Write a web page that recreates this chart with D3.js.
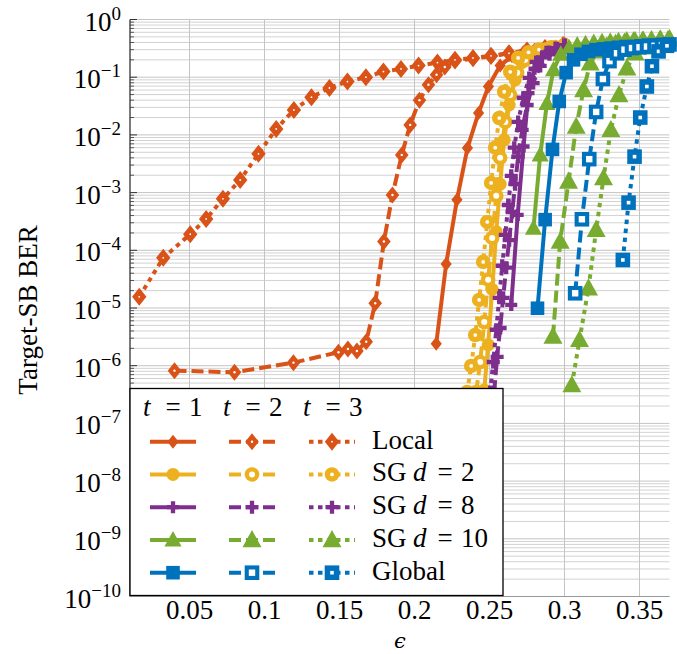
<!DOCTYPE html>
<html lang="en">
<head>
<meta charset="utf-8">
<script src="https://d3js.org/d3.v7.min.js"></script>
<style>
  body { margin: 0; background: #fff; }
  svg { font-family: "Liberation Serif", "Times New Roman", serif; }
</style>
</head>
<body>
<svg width="677" height="654"></svg>
<script>
// ---- data: [epsilon, BER] ----
var localT1 = [[0.2145,2.4e-6],[0.2211,5.8e-5],[0.2283,7.5e-4],[0.2353,5.9e-3],[0.2427,2.4e-2],[0.2493,6.9e-2],[0.2571,0.16],[0.2650,0.23],[0.2725,0.27],[0.2800,0.30],[0.2870,0.32],[0.2940,0.34],[0.3000,0.36]];
var localT2 = [[0.040,8.2e-7],[0.080,7.7e-7],[0.1193,1.13e-6],[0.1493,1.71e-6],[0.1556,1.95e-6],[0.1616,1.8e-6],[0.1678,2.6e-6],[0.1738,1.21e-5],[0.1796,1.42e-4],[0.1853,9.1e-4],[0.1915,4.5e-3],[0.1971,1.49e-2],[0.2033,4.0e-2],[0.2093,7.4e-2],[0.2147,0.11],[0.2202,0.15],[0.2270,0.19],[0.2390,0.21],[0.2510,0.23],[0.2630,0.26],[0.2750,0.29],[0.2870,0.32],[0.3000,0.36]];
var localT3 = [[0.0165,1.56e-5],[0.0325,7.4e-5],[0.0505,1.9e-4],[0.0611,3.5e-4],[0.0723,7.8e-4],[0.0838,1.66e-3],[0.0960,4.7e-3],[0.1078,1.27e-2],[0.1196,2.7e-2],[0.1313,4.5e-2],[0.1433,6.5e-2],[0.1553,8.4e-2],[0.1676,0.100],[0.1793,0.125],[0.1910,0.139],[0.2027,0.159],[0.2153,0.179],[0.2270,0.20],[0.2390,0.215],[0.2510,0.235],[0.2630,0.26],[0.2750,0.29],[0.2870,0.32],[0.2990,0.36]];

var sg2T1 = [[0.2465,3.8e-7],[0.2491,2.3e-6],[0.2518,2.1e-5],[0.2545,2.1e-4],[0.2571,1.4e-3],[0.2598,8.2e-3],[0.2631,3.3e-2],[0.2671,9.0e-2],[0.2718,0.18],[0.2780,0.25],[0.2850,0.30],[0.2920,0.33],[0.3000,0.36]];
var sg2T2 = [[0.2411,3.5e-7],[0.2438,1.16e-6],[0.2465,5.7e-6],[0.2491,3.1e-5],[0.2518,1.64e-4],[0.2545,8.8e-4],[0.2571,4.0e-3],[0.2605,1.68e-2],[0.2638,4.9e-2],[0.2685,0.119],[0.2738,0.20],[0.2800,0.26],[0.2870,0.30],[0.2940,0.33],[0.3000,0.36]];
var sg2T3 = [[0.2351,3.5e-7],[0.2378,9.9e-7],[0.2405,3.4e-6],[0.2431,1.38e-5],[0.2458,6.3e-5],[0.2485,3.1e-4],[0.2511,1.47e-3],[0.2538,6.0e-3],[0.2565,1.96e-2],[0.2598,5.6e-2],[0.2638,0.124],[0.2691,0.216],[0.2760,0.27],[0.2830,0.30],[0.2910,0.33],[0.3000,0.36]];

var sg8T1 = [[0.2645,1.13e-5],[0.2688,4.1e-4],[0.2727,6.3e-3],[0.2760,5.3e-2],[0.2800,0.14],[0.2850,0.22],[0.2900,0.28],[0.2950,0.32],[0.3000,0.36]];
var sg8T2 = [[0.2531,3.5e-7],[0.2551,1.42e-6],[0.2571,4.5e-6],[0.2591,1.5e-5],[0.2611,5.0e-5],[0.2631,1.5e-4],[0.2651,4.6e-4],[0.2671,1.4e-3],[0.2691,4.2e-3],[0.2718,1.22e-2],[0.2751,3.3e-2],[0.2791,7.9e-2],[0.2838,0.157],[0.2900,0.25],[0.2950,0.31],[0.3000,0.36]];
var sg8T3 = [[0.2505,3.5e-7],[0.2525,1.16e-6],[0.2545,4.2e-6],[0.2565,1.5e-5],[0.2585,5.4e-5],[0.2605,1.85e-4],[0.2625,6.1e-4],[0.2645,1.95e-3],[0.2665,6.0e-3],[0.2691,1.68e-2],[0.2725,4.4e-2],[0.2765,9.7e-2],[0.2811,0.184],[0.2880,0.27],[0.2940,0.32],[0.3000,0.36]];

var sg10T1 = [[0.2793,2.4e-4],[0.2838,4.5e-3],[0.2883,3.5e-2],[0.2927,0.134],[0.2975,0.25],[0.3030,0.32],[0.3085,0.36],[0.3140,0.38],[0.3195,0.40],[0.3250,0.41],[0.3305,0.42],[0.3360,0.43],[0.3415,0.44],[0.3470,0.44],[0.3525,0.45],[0.3580,0.45],[0.3635,0.46],[0.3690,0.46]];
var sg10T2 = [[0.2923,3.2e-6],[0.2971,1.42e-4],[0.3027,1.55e-3],[0.3078,1.39e-2],[0.3127,6.0e-2],[0.3171,0.175],[0.3220,0.28],[0.3280,0.34],[0.3340,0.38],[0.3400,0.40],[0.3460,0.42],[0.3520,0.43],[0.3580,0.44],[0.3640,0.45],[0.3700,0.46]];
var sg10T3 = [[0.3049,4.6e-7],[0.3100,2.8e-6],[0.3160,2.2e-5],[0.3211,2.26e-4],[0.3260,1.78e-3],[0.3309,1.22e-2],[0.3363,4.9e-2],[0.3416,0.143],[0.3470,0.26],[0.3520,0.33],[0.3580,0.38],[0.3640,0.42],[0.3700,0.45]];

var globalT1 = [[0.2820,9.9e-6],[0.2871,3.4e-4],[0.2920,5.6e-3],[0.2965,3.8e-2],[0.3011,0.12],[0.3060,0.20],[0.3110,0.25],[0.3160,0.28],[0.3210,0.30],[0.3260,0.31],[0.3310,0.32],[0.3360,0.33],[0.3410,0.34],[0.3460,0.34],[0.3510,0.35],[0.3560,0.36],[0.3610,0.36],[0.3660,0.37]];
var globalT2 = [[0.3071,1.8e-5],[0.3116,3.45e-4],[0.3165,3.8e-3],[0.3211,2.5e-2],[0.3256,9.3e-2],[0.3300,0.19],[0.3350,0.26],[0.3400,0.30],[0.3450,0.32],[0.3500,0.33],[0.3550,0.34],[0.3600,0.35],[0.3650,0.36],[0.3700,0.37]];
var globalT3 = [[0.3389,6.8e-5],[0.3427,6.7e-4],[0.3467,4.2e-3],[0.3505,2.0e-2],[0.3549,6.9e-2],[0.3583,0.155],[0.3627,0.28],[0.3683,0.35]];

var xTicks = [0.05, 0.1, 0.15, 0.2, 0.25, 0.3, 0.35];
var xTickLabels = ["0.05", "0.1", "0.15", "0.2", "0.25", "0.3", "0.35"];
var yExponents = [-10, -9, -8, -7, -6, -5, -4, -3, -2, -1, 0];
var groupNames = ["Local", "SG", "SG", "SG", "Global"];
var groupD = [null, "2", "8", "10", null];
var tLabels = ["1", "2", "3"];

// ---- setup ----
var svg = d3.select("svg");
var pL = 130, pR = 669.5, pT = 19.5, pB = 596.5;

var x = d3.scaleLinear().domain([0.01, 0.37]).range([129.5, pR]);
var y = d3.scaleLog().domain([1e-10, 1]).range([pB, pT]);

var colors = ["#D95319", "#EDB120", "#7E2F8E", "#77AC30", "#0072BD"];
var kinds = ["diamond", "circle", "plus", "triangle", "square"];
var dashes = [null, "12 5", "4.5 4.5"];

var series = [
  [localT1, localT2, localT3],
  [sg2T1, sg2T2, sg2T3],
  [sg8T1, sg8T2, sg8T3],
  [sg10T1, sg10T2, sg10T3],
  [globalT1, globalT2, globalT3]
];

// grid
var grid = svg.append("g");
yExponents.forEach(function(e) {
  if (e < 0) {
    for (var k = 2; k <= 9; k++) {
      var v = k * Math.pow(10, e);
      grid.append("line").attr("x1", pL).attr("x2", pR)
        .attr("y1", y(v)).attr("y2", y(v))
        .attr("stroke", "#d2d2d2").attr("stroke-width", 1);
    }
  }
  grid.append("line").attr("x1", pL).attr("x2", pR)
    .attr("y1", y(Math.pow(10, e))).attr("y2", y(Math.pow(10, e)))
    .attr("stroke", "#c4c4c4").attr("stroke-width", 1);
});
xTicks.forEach(function(v) {
  grid.append("line").attr("x1", x(v)).attr("x2", x(v))
    .attr("y1", pT).attr("y2", pB)
    .attr("stroke", "#c4c4c4").attr("stroke-width", 1);
});

// left axis with inward ticks
var ax = svg.append("g");
yExponents.forEach(function(e) {
  var v = Math.pow(10, e);
  ax.append("line").attr("x1", pL).attr("x2", pL + 7)
    .attr("y1", y(v)).attr("y2", y(v)).attr("stroke", "#333").attr("stroke-width", 1);
  if (e < 0) {
    for (var k = 2; k <= 9; k++) {
      ax.append("line").attr("x1", pL).attr("x2", pL + 4)
        .attr("y1", y(k * v)).attr("y2", y(k * v)).attr("stroke", "#333").attr("stroke-width", 0.8);
    }
  }
});
ax.append("line").attr("x1", pL).attr("x2", pL).attr("y1", pT).attr("y2", pB)
  .attr("stroke", "#333").attr("stroke-width", 1.3);

// markers
function drawMark(g, kind, t, color, cx, cy) {
  var m = g.append("g").attr("transform", "translate(" + cx + "," + cy + ")");
  if (kind === "diamond") {
    var h = [7, 8.5, 9][t], w = h * 0.8;
    m.append("path").attr("d", "M0," + (-h) + "L" + w + ",0L0," + h + "L" + (-w) + ",0Z").attr("fill", color);
    if (t > 0) m.append("circle").attr("r", t === 1 ? 1.2 : 0.9).attr("fill", "#fff");
  } else if (kind === "circle") {
    m.append("circle").attr("r", t === 0 ? 6.5 : 7.3).attr("fill", color);
    if (t > 0) m.append("circle").attr("r", t === 1 ? 3 : 1.9).attr("fill", "#fff");
  } else if (kind === "plus") {
    var r = t === 0 ? 6 : 6.5;
    m.append("path").attr("d", "M" + (-r) + ",0H" + r + "M0," + (-r) + "V" + r)
      .attr("stroke", color).attr("stroke-width", 4.3).attr("fill", "none");
  } else if (kind === "triangle") {
    var s = t === 0 ? 9 : 10;
    m.append("path").attr("d", "M0," + (-s) + "L" + (s * 0.95) + "," + (s * 0.72) + "L" + (-s * 0.95) + "," + (s * 0.72) + "Z")
      .attr("fill", color);
  } else {
    var q = t === 0 ? 6.8 : 7.3;
    m.append("rect").attr("x", -q).attr("y", -q).attr("width", 2 * q).attr("height", 2 * q).attr("fill", color);
    if (t > 0) {
      var qi = t === 1 ? 3.2 : 1.8;
      m.append("rect").attr("x", -qi).attr("y", -qi).attr("width", 2 * qi).attr("height", 2 * qi).attr("fill", "#fff");
    }
  }
}

var line = d3.line().x(function(d) { return x(d[0]); }).y(function(d) { return y(d[1]); });
var plot = svg.append("g");
series.forEach(function(grp, gi) {
  grp.forEach(function(data, t) {
    plot.append("path").datum(data).attr("d", line)
      .attr("fill", "none").attr("stroke", colors[gi]).attr("stroke-width", 4)
      .attr("stroke-linejoin", "round")
      .attr("stroke-dasharray", dashes[t]);
    data.forEach(function(d) { drawMark(plot, kinds[gi], t, colors[gi], x(d[0]), y(d[1])); });
  });
});

// bottom axis line
svg.append("line").attr("x1", pL).attr("x2", pR).attr("y1", pB).attr("y2", pB)
  .attr("stroke", "#999").attr("stroke-width", 1);

// tick labels
xTicks.forEach(function(v, i) {
  svg.append("text").attr("x", x(v)).attr("y", 619).attr("text-anchor", "middle")
    .attr("font-size", 27).text(xTickLabels[i]);
});
yExponents.forEach(function(e) {
  var t = svg.append("text").attr("x", 121).attr("y", y(Math.pow(10, e)) + 11)
    .attr("text-anchor", "end").attr("font-size", 27);
  t.append("tspan").text("10");
  t.append("tspan").attr("dy", -11).attr("font-size", 19).text(e < 0 ? "\u2212" + (-e) : String(e));
});

// axis labels
svg.append("text").attr("x", 400).attr("y", 648).attr("text-anchor", "middle")
  .attr("font-family", "DejaVu Serif").attr("font-style", "italic").attr("font-size", 21).text("\u03f5");
svg.append("text").attr("transform", "translate(37,310) rotate(-90)").attr("text-anchor", "middle")
  .attr("font-size", 27).text("Target-SB BER");

// legend
var lg = svg.append("g");
lg.append("rect").attr("x", 130).attr("y", 388.5).attr("width", 373).attr("height", 207)
  .attr("fill", "#fff").attr("stroke", "#000").attr("stroke-width", 1.3);

var colX = [173, 252, 332];
tLabels.forEach(function(lbl, i) {
  var x0 = 143 + i * 80;
  lg.append("text").attr("x", x0).attr("y", 416).attr("font-size", 27).attr("font-style", "italic").text("t");
  lg.append("text").attr("x", x0 + 30).attr("y", 416).attr("font-size", 27).attr("text-anchor", "middle").text("=");
  lg.append("text").attr("x", x0 + 46).attr("y", 416).attr("font-size", 27).text(lbl);
});

groupNames.forEach(function(name, gi) {
  var ly = 441.7 + gi * 32.75;
  for (var t = 0; t < 3; t++) {
    lg.append("line").attr("x1", colX[t] - 23).attr("x2", colX[t] + 23).attr("y1", ly).attr("y2", ly)
      .attr("stroke", colors[gi]).attr("stroke-width", 4).attr("stroke-dasharray", dashes[t]);
    drawMark(lg, kinds[gi], t, colors[gi], colX[t], ly);
  }
  lg.append("text").attr("x", 372).attr("y", ly + 7).attr("font-size", 27).text(name);
  if (groupD[gi]) {
    lg.append("text").attr("x", 413).attr("y", ly + 7).attr("font-size", 27).attr("font-style", "italic").text("d");
    lg.append("text").attr("x", 445).attr("y", ly + 7).attr("font-size", 27).attr("text-anchor", "middle").text("=");
    lg.append("text").attr("x", 461).attr("y", ly + 7).attr("font-size", 27).text(groupD[gi]);
  }
});
</script>
</body>
</html>
